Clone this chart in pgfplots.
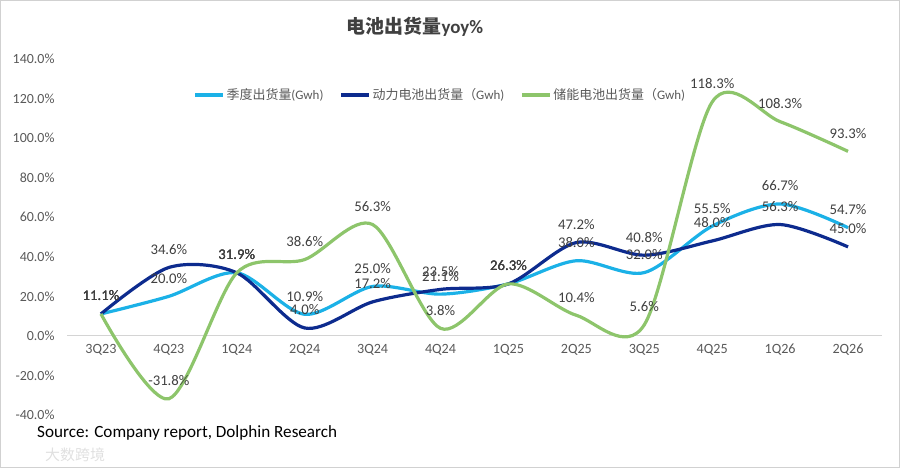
\documentclass[border=0pt]{standalone}
\usepackage{pgfplots}
\pgfplotsset{compat=1.18}
\usepackage{fontspec}
\setmainfont{Carlito}
\newfontfamily\cjk{Noto Sans CJK SC}
\definecolor{lblue}{HTML}{1BB1E7}
\definecolor{dblue}{HTML}{0D2B8E}
\definecolor{lgreen}{HTML}{8DC56B}
\definecolor{tickgray}{HTML}{595959}
\definecolor{labgray}{HTML}{404040}
\begin{document}
\begin{tikzpicture}[x=1bp,y=1bp]
\useasboundingbox (0,0) rectangle (900,468);
\draw[black!18, line width=1.2bp] (0.6,0.6) rectangle (899.4,467.4);
\begin{axis}[
  at={(67bp,53bp)}, anchor=south west,
  scale only axis, width=815bp, height=356bp,
  xmin=-0.5, xmax=11.5, ymin=-40, ymax=140,
  axis x line=middle, axis y line=left,
  x axis line style={-, draw=black!17, line width=1bp},
  y axis line style={draw=none},
  major tick length=0pt,
  xtick={0,...,11},
  xticklabels={3Q23,4Q23,1Q24,2Q24,3Q24,4Q24,1Q25,2Q25,3Q25,4Q25,1Q26,2Q26},
  ytick={-40,-20,0,20,40,60,80,100,120,140},
  yticklabel={\pgfmathprintnumber[fixed,fixed zerofill,precision=1]{\tick}\%},
  /pgf/number format/assume math mode=true,
  xticklabel style={font=\fontsize{14.2}{15}\selectfont, text=tickgray, yshift=-5bp},
  yticklabel style={font=\fontsize{14}{15}\selectfont, text=tickgray, xshift=-9bp},
  clip=false,
  nodes near coords={\pgfmathprintnumber[fixed,fixed zerofill,precision=1]{\pgfplotspointmeta}\%},
  every node near coord/.append style={anchor=center, yshift=18bp, font=\fontsize{14.8}{15}\selectfont, text=labgray},
  legend style={at={(0.155,0.899)}, anchor=west, draw=none, fill=none, inner sep=0pt,
    font=\fontsize{13}{14}\selectfont, text=tickgray, legend columns=3,
    /tikz/every even column/.append style={column sep=14bp}},
  legend image code/.code={\draw[#1] (0bp,0bp) -- (28bp,0bp);},
  every axis plot/.append style={line width=3.2bp, smooth, mark=none},
]
\addplot[lblue] coordinates {(0,11.1) (1,20.0) (2,31.9) (3,10.9) (4,25.0) (5,21.1) (6,26.3) (7,38.0) (8,32.0) (9,55.5) (10,66.7) (11,54.7)};
\addlegendentry{{\cjk 季度出货量}(Gwh)}
\addplot[dblue] coordinates {(0,11.1) (1,34.6) (2,31.9) (3,4.0) (4,17.2) (5,23.5) (6,26.3) (7,47.2) (8,40.8) (9,48.0) (10,56.3) (11,45.0)};
\addlegendentry{{\cjk 动力电池出货量（}Gwh)}
\addplot[lgreen] coordinates {(0,11.1) (1,-31.8) (2,31.9) (3,38.6) (4,56.3) (5,3.8) (6,26.3) (7,10.4) (8,5.6) (9,118.3) (10,108.3) (11,93.3)};
\addlegendentry{{\cjk 储能电池出货量（}Gwh)}
\end{axis}
\node[text=labgray, font=\fontsize{19}{20}\selectfont\bfseries] at (415,468-27) {{\cjk 电池出货量}yoy\%};
\node[anchor=west, inner sep=0pt, font=\fontsize{17.2}{18}\selectfont] at (37,468-433) {Source: Company report, Dolphin Research};
\node[anchor=west, inner sep=0pt, text=black!12, font=\fontsize{15}{16}\selectfont\cjk] at (45,468-455) {大数跨境};
\end{tikzpicture}
\end{document}
